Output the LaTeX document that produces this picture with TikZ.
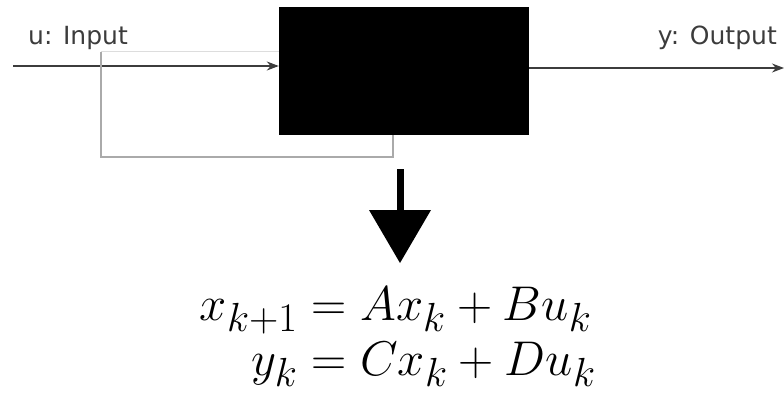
\documentclass[tikz,border=0pt]{standalone}
\usepackage{amsmath}
\usepackage{fontspec}
\newfontfamily\labelfont{DejaVu Sans}
\usetikzlibrary{arrows.meta}
\definecolor{wireink}{RGB}{60,60,60}
\definecolor{loopgray}{RGB}{170,170,170}

\begin{document}
\begin{tikzpicture}[x=1pt,y=-1pt,
  sysbox/.style={fill=black,draw=none,minimum width=250pt,minimum height=128pt,inner sep=0pt},
  signal/.style={draw=wireink,line width=1.2pt,-{Stealth[length=12pt,width=9pt]}},
  sigtext/.style={text=wireink,inner sep=0pt,font=\labelfont\fontsize{25}{30}\selectfont},
  loopline/.style={draw=loopgray,line width=1.2pt}]
\useasboundingbox (0,0) rectangle (784,396);
\node[sysbox] (sys) at (404,71) {};
\coordinate (uin) at (13,66);
\coordinate (yout) at (784,68);
\node[sigtext,anchor=base west] (ulabel) at (28,45) {u: Input};
\node[sigtext,anchor=base east] (ylabel) at (777,45) {y: Output};
\draw[signal] (uin) -- (uin -| sys.west);
\draw[signal] (yout -| sys.east) -- (yout);
% loop under the input line
\coordinate (tap) at (101,52);
\coordinate (corner) at (101,157);
\coordinate (back) at (393,157);
\draw[draw=loopgray!40,line width=1pt] (tap) -- (tap -| sys.west);
\draw[loopline] (tap) -- (corner) -- (back) -- (back |- sys.south);
% model equations
\node[inner sep=0pt,scale=1.96] (eqs) at (398,336)
  {\Huge\setlength{\jot}{-1.7pt}$\begin{aligned} x_{k+1} &= Ax_k + Bu_k\\ y_k &= Cx_k + Du_k\end{aligned}$};
\coordinate (ftop) at (400,169);
\coordinate (ftip) at (400,263);
\draw[line width=7pt,-{Triangle[width=62pt,length=53pt,line width=0pt]}] (ftop) -- (ftip);
\end{tikzpicture}
\end{document}
